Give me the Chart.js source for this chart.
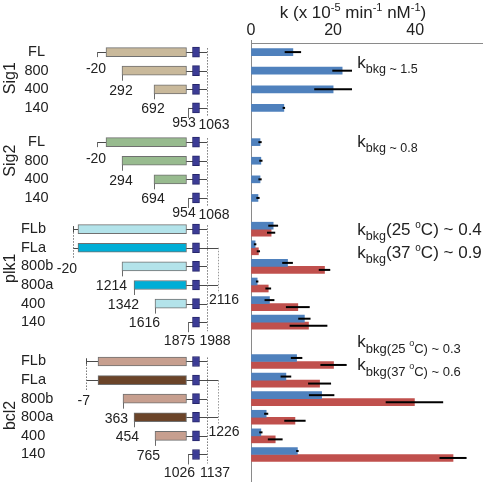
<!DOCTYPE html>
<html><head><meta charset="utf-8">
<script src="https://cdn.jsdelivr.net/npm/chart.js@4.4.0/dist/chart.umd.min.js"></script>
<style>
html,body{margin:0;padding:0;background:#fff;}
#wrap{position:relative;width:483px;height:482px;background:#fff;}
canvas{position:absolute;left:0;top:0;}
</style></head><body>
<div id="wrap"><canvas id="left" width="483" height="482"></canvas><canvas id="right" width="483" height="482"></canvas></div>
<script>
// ---------------- data ----------------
const groupNames = ['Sig1', 'Sig2', 'plk1', 'bcl2'];
const sig1Rows = ['FL', '800', '400', '140'];
const sig2Rows = ['FL', '800', '400', '140'];
const plk1Rows = ['FLb', 'FLa', '800b', '800a', '400', '140'];
const bcl2Rows = ['FLb', 'FLa', '800b', '800a', '400', '140'];

// k (x 10^-5 min^-1 nM^-1): blue = 25 °C, red = 37 °C
const sig1K25 = [10.2, 22.2, 20.0, 8.0];
const sig1K25Err = [2.0, 2.4, 4.6, 0.3];
const sig2K25 = [2.2, 2.4, 2.2, 1.7];
const sig2K25Err = [0.4, 0.4, 0.4, 0.4];
const plk1K25 = [5.4, 1.0, 8.9, 1.5, 4.5, 13.0];
const plk1K25Err = [1.2, 0.3, 1.3, 0.3, 1.2, 1.5];
const plk1K37 = [4.9, 1.8, 17.9, 4.2, 11.4, 14.0];
const plk1K37Err = [1.0, 0.4, 1.4, 0.7, 2.9, 4.6];
const bcl2K25 = [11.1, 8.5, 17.2, 3.7, 2.4, 11.3];
const bcl2K25Err = [1.4, 1.3, 3.1, 0.5, 0.4, 0.3];
const bcl2K37 = [20.1, 16.7, 39.8, 10.7, 5.9, 49.2];
const bcl2K37Err = [3.2, 2.8, 7.0, 2.6, 1.8, 3.3];

const xTicks = [0, 20, 40];
const bkgNotes = ['~ 1.5', '~ 0.8', ['25', '~ 0.4', '37', '~ 0.9'], ['25', '~ 0.3', '37', '~ 0.6']];

// construct boundary labels (nt)
const sig1Starts = ['-20', '292', '692', '953'];  const sig1End = '1063';
const sig2Starts = ['-20', '294', '694', '954'];  const sig2End = '1068';
const plk1Starts = ['-20', '-20', '1214', '1342', '1616', '1875']; const plk1End = '1988'; const plk1Ext = '2116';
const bcl2Starts = ['-7', '-7', '363', '454', '765', '1026'];     const bcl2End = '1137'; const bcl2Ext = '1226';

// schematic (not to scale) construct start positions, diagram units
const sigLineStart = [37, 62, 94, 128];
const sigBoxStart = [46, 62, 94, null];
const plk1LineStart = [13, 13, 62, 74, 95, 128];
const plk1BoxStart = [18, 18, 62, 74, 95, null];
const bcl2LineStart = [26, 26, 63, 74, 95, 128];
const bcl2BoxStart = [38, 38, 63, 74, 95, null];
const boxEnd = 126.5, tagStart = 132.5, tagEnd = 139.5, lineEnd = 147, extEnd = 158;

// ---------------- layout ----------------
const FONT = '"Liberation Sans", Arial, Helvetica, sans-serif';
const TXT = '#222';
const groupGap = [0, 0.84, 0.68, 1.11];
const Y_MIN = -0.489, Y_MAX = 23.11;
const groupRows = [sig1Rows, sig2Rows, plk1Rows, bcl2Rows];
const rowPos = [];
{ let cur = 0; groupRows.forEach((rows, g) => { cur += groupGap[g]; rowPos.push(rows.map((_, i) => cur + i)); cur += rows.length; }); }

const k25 = [sig1K25, sig2K25, plk1K25, bcl2K25];
const k25Err = [sig1K25Err, sig2K25Err, plk1K25Err, bcl2K25Err];
const k37 = [null, null, plk1K37, bcl2K37];
const k37Err = [null, null, plk1K37Err, bcl2K37Err];

const blueData = [], blueErr = [], redData = [], redErr = [];
groupRows.forEach((rows, g) => rows.forEach((r, i) => {
  blueData.push({ y: rowPos[g][i], x: k25[g][i] }); blueErr.push(k25Err[g][i]);
  redData.push({ y: rowPos[g][i], x: k37[g] ? k37[g][i] : null }); redErr.push(k37Err[g] ? k37Err[g][i] : null);
}));

function richText(ctx, x, y, segs) {
  ctx.save(); ctx.fillStyle = TXT; ctx.textBaseline = 'alphabetic'; ctx.textAlign = 'left';
  let cx = x;
  segs.forEach(s => { ctx.font = s[1] + 'px ' + FONT; ctx.fillText(s[0], cx, y + (s[2] || 0)); cx += ctx.measureText(s[0]).width; });
  ctx.restore();
}

// ---------------- right chart (bars) ----------------
const errorBarPlugin = {
  id: 'errbars',
  afterDatasetsDraw(chart) {
    const ctx = chart.ctx, xs = chart.scales.x;
    ctx.save(); ctx.strokeStyle = '#000'; ctx.lineWidth = 2;
    chart.data.datasets.forEach((ds, di) => {
      const meta = chart.getDatasetMeta(di);
      meta.data.forEach((bar, i) => {
        const v = ds.data[i].x, e = ds.errors[i];
        if (v == null || e == null) return;
        ctx.beginPath();
        ctx.moveTo(xs.getPixelForValue(v - e), bar.y);
        ctx.lineTo(xs.getPixelForValue(v + e), bar.y);
        ctx.stroke();
      });
    });
    ctx.restore();
  }
};
const notePlugin = {
  id: 'notes',
  afterDraw(chart) {
    const ctx = chart.ctx, xs = chart.scales.x, ys = chart.scales.y;
    richText(ctx, xs.getPixelForValue(7), 18, [['k (x 10', 17], ['-5', 11, -7], [' min', 17], ['-1', 11, -7], [' nM', 17], ['-1', 11, -7], [')', 17]]);
    const ax = xs.getPixelForValue(25.9);
    let y = ys.getPixelForValue(rowPos[0][1]) - 3;
    richText(ctx, ax, y, [['k', 17], ['bkg ' + bkgNotes[0], 12.5, 5]]);
    y = ys.getPixelForValue(rowPos[1][0]) + 4.5;
    richText(ctx, ax, y, [['k', 17], ['bkg ' + bkgNotes[1], 12.5, 5]]);
    y = ys.getPixelForValue(rowPos[2][0]) + 6;
    const n2 = bkgNotes[2];
    richText(ctx, ax, y, [['k', 17], ['bkg', 12.5, 5], ['(' + n2[0] + ' ', 17], ['o', 10, -7], ['C) ' + n2[1], 17]]);
    richText(ctx, ax, y + 23, [['k', 17], ['bkg', 12.5, 5], ['(' + n2[2] + ' ', 17], ['o', 10, -7], ['C) ' + n2[3], 17]]);
    y = ys.getPixelForValue(rowPos[3][0]) - 14;
    const n3 = bkgNotes[3];
    richText(ctx, ax, y, [['k', 17], ['bkg(' + n3[0] + ' ', 13, 6], ['o', 9, -1], ['C) ' + n3[1], 13, 6]]);
    richText(ctx, ax, y + 23, [['k', 17], ['bkg(' + n3[2] + ' ', 13, 6], ['o', 9, -1], ['C) ' + n3[3], 13, 6]]);
  }
};

new Chart(document.getElementById('right'), {
  type: 'bar',
  data: { datasets: [
    { label: '25 °C', data: blueData, errors: blueErr, backgroundColor: '#4f81bd', barThickness: 7, skipNull: true },
    { label: '37 °C', data: redData, errors: redErr, backgroundColor: '#c0504d', barThickness: 7, skipNull: true }
  ]},
  options: {
    indexAxis: 'y', responsive: false, animation: false,
    layout: { padding: { left: 251, right: 0, top: 0, bottom: 0 } },
    scales: {
      x: {
        type: 'linear', position: 'top', min: 0, max: 56.5,
        afterFit: s => { s.height = 43; },
        afterBuildTicks: s => { s.ticks = xTicks.map(v => ({ value: v })); },
        ticks: { padding: 0, color: TXT, font: { size: 16, family: FONT } },
        grid: { color: c => (c.tick && c.tick.value === 0) ? '#8a8a8a' : 'rgba(0,0,0,0)', tickLength: 3, lineWidth: 1 },
        border: { display: true, color: '#8a8a8a', width: 1 }
      },
      y: { type: 'linear', reverse: true, offset: false, min: Y_MIN, max: Y_MAX, display: false }
    },
    plugins: { legend: { display: false }, tooltip: { enabled: false } }
  },
  plugins: [errorBarPlugin, notePlugin]
});

// ---------------- left chart (construct diagrams) ----------------
const diagrams = [
  { rows: sig1Rows, starts: sig1Starts, end: sig1End, ext: null, lineStart: sigLineStart, boxStart: sigBoxStart,
    colors: ['#c9b99b', '#c9b99b', '#c9b99b', '#c9b99b'], kind: 'sig', nameRow: 1.4 },
  { rows: sig2Rows, starts: sig2Starts, end: sig2End, ext: null, lineStart: sigLineStart, boxStart: sigBoxStart,
    colors: ['#98bb8f', '#98bb8f', '#98bb8f', '#98bb8f'], kind: 'sig', nameRow: 1.0 },
  { rows: plk1Rows, starts: plk1Starts, end: plk1End, ext: plk1Ext, lineStart: plk1LineStart, boxStart: plk1BoxStart,
    colors: ['#b3e3ea', '#00aed6', '#b3e3ea', '#00aed6', '#b3e3ea', '#b3e3ea'], kind: 'ab', nameRow: 2.1 },
  { rows: bcl2Rows, starts: bcl2Starts, end: bcl2End, ext: bcl2Ext, lineStart: bcl2LineStart, boxStart: bcl2BoxStart,
    colors: ['#c79f8f', '#6b4429', '#c79f8f', '#6b4429', '#c79f8f', '#c79f8f'], kind: 'ab', nameRow: 2.9 }
];

const boxData = [], boxColors = [], tagData = [];
diagrams.forEach((d, g) => d.rows.forEach((r, i) => {
  const y = rowPos[g][i];
  if (d.boxStart[i] != null) { boxData.push({ y, x: [d.boxStart[i], boxEnd] }); boxColors.push(d.colors[i]); }
  tagData.push({ y, x: [tagStart, tagEnd] });
}));

function vline(ctx, x, y1, y2, color, dash) {
  ctx.save(); ctx.strokeStyle = color; ctx.lineWidth = 1; ctx.setLineDash(dash || []);
  ctx.beginPath(); ctx.moveTo(Math.round(x) + 0.5, y1); ctx.lineTo(Math.round(x) + 0.5, y2); ctx.stroke(); ctx.restore();
}
function hline(ctx, x1, x2, y, color) {
  ctx.save(); ctx.strokeStyle = color; ctx.lineWidth = 1;
  ctx.beginPath(); ctx.moveTo(x1, Math.round(y) + 0.5); ctx.lineTo(x2, Math.round(y) + 0.5); ctx.stroke(); ctx.restore();
}
function text(ctx, s, x, y, align, size) {
  ctx.save(); ctx.fillStyle = TXT; ctx.font = (size || 14) + 'px ' + FONT; ctx.textAlign = align; ctx.textBaseline = 'middle';
  ctx.fillText(s, x, y); ctx.restore();
}

const diagramPlugin = {
  id: 'diagram',
  beforeDatasetsDraw(chart) {
    const ctx = chart.ctx, xs = chart.scales.x, ys = chart.scales.y;
    const px = u => xs.getPixelForValue(u), py = p => ys.getPixelForValue(p);
    diagrams.forEach((d, g) => {
      const n = d.rows.length, rp = rowPos[g];
      d.rows.forEach((r, i) => {
        const y = py(rp[i]);
        const isA = /a$/.test(r);
        hline(ctx, px(d.lineStart[i]), px(isA ? extEnd : lineEnd), y, '#4a4a4a');
        if (d.kind === 'sig') {
          vline(ctx, px(d.lineStart[i]), y, y + (i === 0 ? 5 : 10), '#6a6a6a');
        } else if (i >= 2) {
          vline(ctx, px(d.lineStart[i]), y, y + 10, '#6a6a6a');
        }
      });
      vline(ctx, px(lineEnd), py(rp[0]) - 4, py(rp[n - 1]) + 9, '#777', [1.5, 1.5]);
      if (d.kind === 'ab') {
        vline(ctx, px(d.lineStart[0]), py(rp[0]) - 3, py(rp[1]) + 11, '#777', [1.5, 1.5]);
        vline(ctx, px(d.lineStart[0]), py(rp[0]) - 3, py(rp[0]) + 3, '#4a4a4a');
        vline(ctx, px(extEnd), py(rp[1]), py(rp[3]) + 8, '#999', [1.5, 1.5]);
      }
    });
  },
  afterDraw(chart) {
    const ctx = chart.ctx, xs = chart.scales.x, ys = chart.scales.y;
    const px = u => xs.getPixelForValue(u), py = p => ys.getPixelForValue(p);
    diagrams.forEach((d, g) => {
      const n = d.rows.length, rp = rowPos[g];
      ctx.save(); ctx.translate(15, py(rp[0] + d.nameRow)); ctx.rotate(-Math.PI / 2);
      ctx.fillStyle = TXT; ctx.font = '16px ' + FONT; ctx.textAlign = 'center'; ctx.textBaseline = 'alphabetic';
      ctx.fillText(groupNames[g], 0, 0); ctx.restore();
      d.rows.forEach((r, i) => {
        if (d.kind === 'sig') text(ctx, r, 36.5, py(rp[i]), 'center', 14.5);
        else text(ctx, r, 21, py(rp[i]), 'left', 14.5);
      });
      if (d.kind === 'sig') {
        const dy = [17, 20, 20, 15];
        d.starts.forEach((s, i) => text(ctx, s, px(d.lineStart[i]) - (i === 3 ? 4 : 1), py(rp[i]) + dy[i], 'center'));
        text(ctx, d.end, px(lineEnd) + 7, py(rp[n - 1]) + 17, 'center');
      } else {
        text(ctx, d.starts[0], px(d.lineStart[0]) + 4, py(rp[1]) + 21, 'right');
        for (let i = 2; i < n; i++) {
          text(ctx, d.starts[i], px(d.lineStart[i]) + (i === n - 1 ? 7 : 5), py(rp[i]) + (i === n - 1 ? 18.5 : 20), 'right');
        }
        text(ctx, d.end, px(lineEnd) + 8, py(rp[n - 1]) + 18.5, 'center');
        text(ctx, d.ext, px(extEnd) + 6, py(rp[3]) + 15, 'center');
      }
    });
  }
};

new Chart(document.getElementById('left'), {
  type: 'bar',
  data: { datasets: [
    { data: boxData, backgroundColor: boxColors, borderColor: '#707070', borderWidth: 1, borderSkipped: false, barThickness: 9, grouped: false },
    { data: tagData, backgroundColor: '#3c3c96', borderColor: '#26266a', borderWidth: 1, borderSkipped: false, barThickness: 10, grouped: false }
  ]},
  options: {
    indexAxis: 'y', responsive: false, animation: false,
    layout: { padding: { left: 60, right: 243, top: 43, bottom: 0 } },
    scales: {
      x: { type: 'linear', min: 0, max: 180, display: false },
      y: { type: 'linear', reverse: true, offset: false, min: Y_MIN, max: Y_MAX, display: false }
    },
    plugins: { legend: { display: false }, tooltip: { enabled: false } }
  },
  plugins: [diagramPlugin]
});
</script>
</body></html>
